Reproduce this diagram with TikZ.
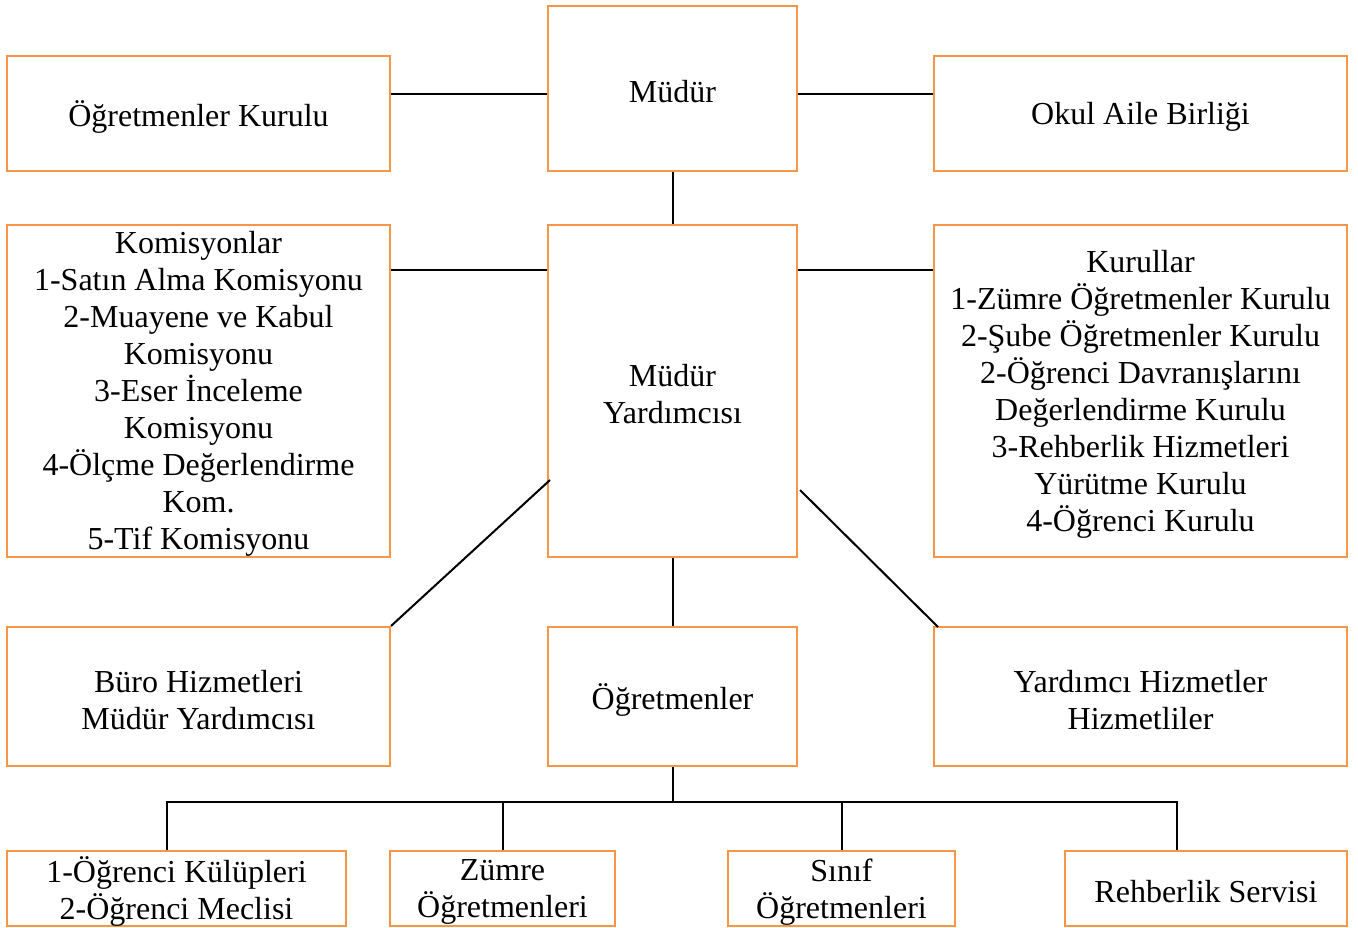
\documentclass[tikz,border=0pt]{standalone}
\usepackage{fontspec}
\setmainfont{Liberation Serif}
\definecolor{boxorange}{HTML}{F79646}
\begin{document}
\begin{tikzpicture}[x=0.75pt,y=-0.75pt,
  bx/.style n args={3}{draw=boxorange, line width=1.5pt, inner sep=0pt,
    minimum width=#1*0.75pt, minimum height=#2*0.75pt,
    label={[tx]center:{#3}}},
  tx/.style={align=center, inner sep=0pt, yshift=-2.5pt,
    font=\fontsize{24pt}{27.75pt}\selectfont},
  ln/.style={draw=black, line width=1.5pt}]
\useasboundingbox (0,0) rectangle (1358,927);
% top row
\node[bx={383}{115}{Öğretmenler Kurulu}] (ok) at (198.5,113.5) {};
\node[bx={249}{165}{Müdür}] (mudur) at (672.5,88.5) {};
\node[bx={413}{115}{Okul Aile Birliği}] (oab) at (1140.5,113.5) {};
% middle row
\node[bx={383}{332}{Komisyonlar\\1-Satın Alma Komisyonu\\2-Muayene ve Kabul\\Komisyonu\\3-Eser İnceleme\\Komisyonu\\4-Ölçme Değerlendirme\\Kom.\\5-Tif Komisyonu}] (kom) at (198.5,391) {};
\node[bx={249}{332}{Müdür\\Yardımcısı}] (my) at (672.5,391) {};
\node[bx={413}{332}{Kurullar\\1-Zümre Öğretmenler Kurulu\\2-Şube Öğretmenler Kurulu\\2-Öğrenci Davranışlarını\\Değerlendirme Kurulu\\3-Rehberlik Hizmetleri\\Yürütme Kurulu\\4-Öğrenci Kurulu}] (kur) at (1140.5,391) {};
% third row
\node[bx={383}{139}{Büro Hizmetleri\\Müdür Yardımcısı}] (buro) at (198.5,696.5) {};
\node[bx={249}{139}{Öğretmenler}] (ogr) at (672.5,696.5) {};
\node[bx={413}{139}{Yardımcı Hizmetler\\Hizmetliler}] (yard) at (1140.5,696.5) {};
% bottom row
\node[bx={339}{75}{1-Öğrenci Külüpleri\\2-Öğrenci Meclisi}] (kulup) at (176.5,888.5) {};
\node[bx={225}{75}{Zümre\\Öğretmenleri}] (zumre) at (502.5,888.5) {};
\node[bx={227}{75}{Sınıf\\Öğretmenleri}] (sinif) at (841.5,888.5) {};
\node[bx={282}{75}{Rehberlik Servisi}] (rehb) at (1206,888.5) {};
% helper coordinates
\coordinate (y94) at (0,94);
\coordinate (y270) at (0,270);
\coordinate (dl) at (550,480);
\coordinate (dr) at (800,490);
\coordinate (drend) at (938,627);
\coordinate (bus) at (0,802);
\coordinate (xk) at (167,0);
\coordinate (xz) at (503,0);
\coordinate (xs) at (842,0);
\coordinate (xr) at (1177,0);
% connectors
\draw[ln] (ok.east |- y94) -- (mudur.west |- y94);
\draw[ln] (mudur.east |- y94) -- (oab.west |- y94);
\draw[ln] (mudur.south) -- (my.north);
\draw[ln] (kom.east |- y270) -- (my.west |- y270);
\draw[ln] (my.east |- y270) -- (kur.west |- y270);
\draw[ln] (buro.north east) -- (dl);
\draw[ln] (dr) -- (drend);
\draw[ln] (my.south) -- (ogr.north);
\draw[ln] (ogr.south) -- (ogr.south |- bus);
\draw[ln] (xk |- kulup.north) -- (xk |- bus) -- (xr |- bus) -- (xr |- rehb.north);
\draw[ln] (xz |- bus) -- (xz |- zumre.north);
\draw[ln] (xs |- bus) -- (xs |- sinif.north);
\end{tikzpicture}
\end{document}
